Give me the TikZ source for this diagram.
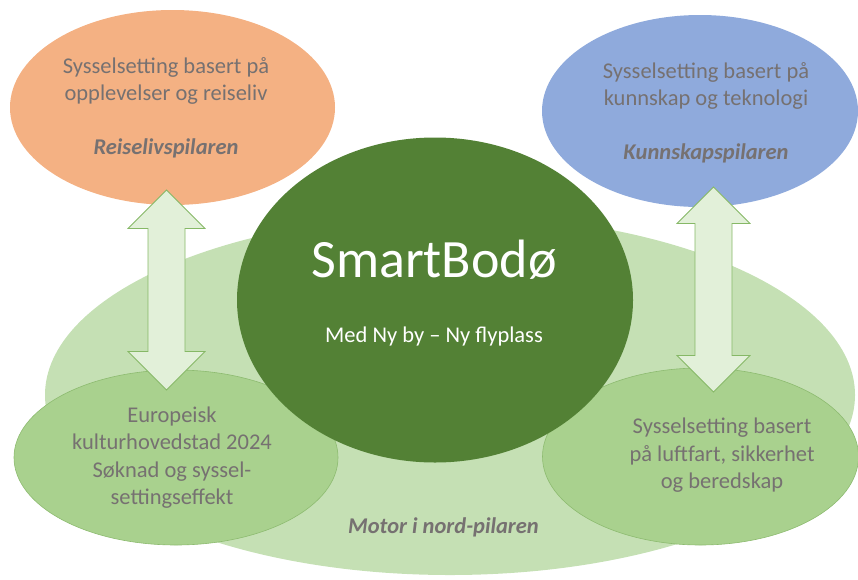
\documentclass[tikz,border=0pt]{standalone}
\usepackage{fontspec}
\setmainfont{Carlito}
\usetikzlibrary{shapes.geometric}
\definecolor{orangefill}{HTML}{F4B183}
\definecolor{bluefill}{HTML}{8FAADC}
\definecolor{darkgreen}{HTML}{538135}
\definecolor{biglight}{HTML}{C5E0B4}
\definecolor{midgreen}{HTML}{A9D18E}
\definecolor{edgegreen}{HTML}{8DBB70}
\definecolor{arrowfill}{HTML}{E2F0D9}
\definecolor{arrowedge}{HTML}{86B866}
\definecolor{textgray}{HTML}{767171}
\begin{document}
\begin{tikzpicture}[x=1pt,y=-1pt,
  pillar/.style={ellipse, inner sep=0pt, draw=none},
  txt/.style={text=textgray, align=center, inner sep=0pt, font=\fontsize{22.5}{27.5}\selectfont},
  pname/.style={txt, font=\fontsize{22.5}{27.5}\selectfont\bfseries\itshape},
  blockarrow/.style={fill=arrowfill, draw=arrowedge, line width=0.8pt, line join=miter}]
\useasboundingbox (0,0) rectangle (858,579);
\begin{scope}
\clip (0,0) rectangle (858,579);
% big motor ellipse
\node[pillar, fill=biglight, minimum width=810, minimum height=360] (motor) at (450,395) {};
% top pillars
\node[pillar, fill=orangefill, minimum width=325, minimum height=195] (reise) at (172.5,107.5) {};
\node[pillar, fill=bluefill, minimum width=316, minimum height=192] (kunn) at (700,111) {};
% bottom pillars
\node[pillar, fill=midgreen, draw=edgegreen, line width=0.6pt, minimum width=324, minimum height=175] (kultur) at (176,457.5) {};
\node[pillar, fill=midgreen, draw=edgegreen, line width=0.6pt, minimum width=316, minimum height=177] (luft) at (700.5,456.5) {};
% centre
\node[pillar, fill=darkgreen, minimum width=396, minimum height=325] (smart) at (435,300) {};
\end{scope}
% block arrows
\coordinate (aLt) at (166.5,190);
\coordinate (aRt) at (713.5,187);
\draw[blockarrow] (aLt) -- ++(38.5,38.5) -- ++(-20,0) -- ++(0,123) -- ++(20,0) -- ++(-38.5,38.5) coordinate (aLb)
  -- ++(-38.5,-38.5) -- ++(20,0) -- ++(0,-123) -- ++(-20,0) -- cycle;
\draw[blockarrow] (aRt) -- ++(36.5,36.5) -- ++(-18,0) -- ++(0,132) -- ++(18,0) -- ++(-36.5,36.5) coordinate (aRb)
  -- ++(-36.5,-36.5) -- ++(18,0) -- ++(0,-132) -- ++(-18,0) -- cycle;
% texts
\node[txt] (t1) at (166,81) {Sysselsetting basert på\\opplevelser og reiseliv};
\node[pname] (t1b) at (166,148) {Reiselivspilaren};
\node[txt] (t2) at (706,86) {Sysselsetting basert på\\kunnskap og teknologi};
\node[pname] (t2b) at (706,153) {Kunnskapspilaren};
\node[txt] (t3) at (172,457.5) {Europeisk\\kulturhovedstad 2024\\Søknad og syssel-\\settingseffekt};
\node[txt] (t4) at (722,455.5) {Sysselsetting basert\\på luftfart, sikkerhet\\og beredskap};
\node[txt, text=white, font=\fontsize{54}{60}\selectfont, anchor=base] (t5) at (434,277) {SmartBodø};
\node[txt, text=white] (t6) at (434,336) {Med Ny by – Ny flyplass};
\node[pname] (t7) at (443.5,527) {Motor i nord-pilaren};
\end{tikzpicture}
\end{document}
